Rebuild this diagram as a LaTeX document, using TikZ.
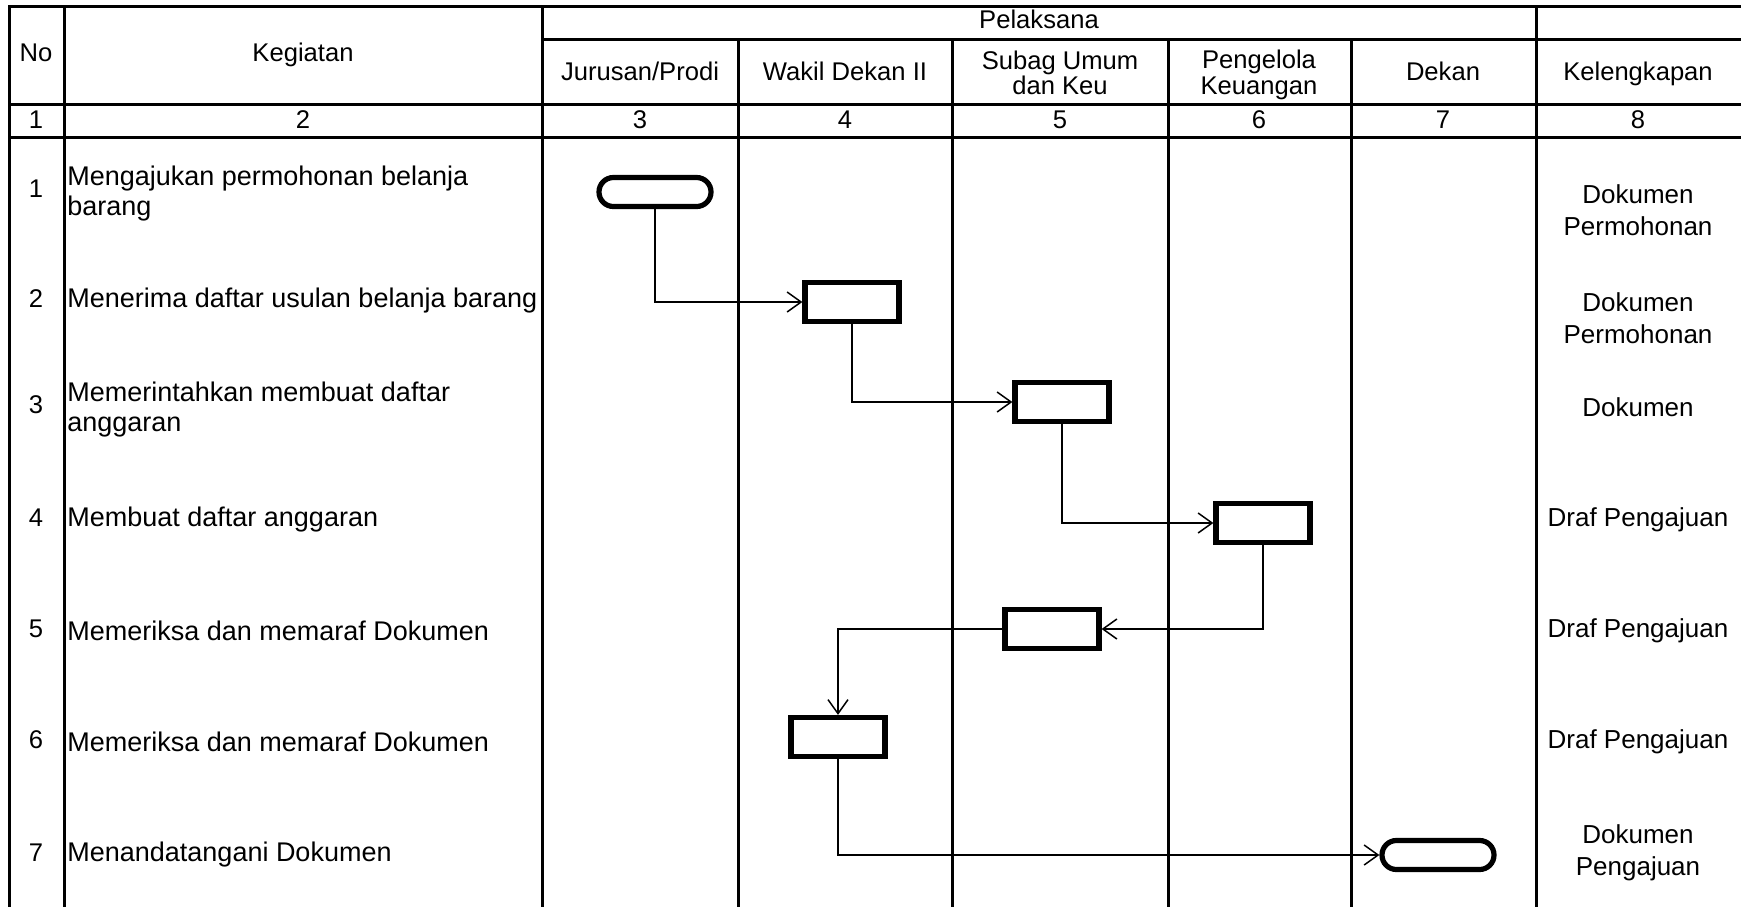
\documentclass[tikz,border=0pt]{standalone}
\usepackage{fontspec}
\setmainfont{Liberation Sans}
\usetikzlibrary{arrows.meta,positioning}

\begin{document}
\begin{tikzpicture}[x=0.5pt,y=-0.5pt,
    grid/.style={line width=1.5pt, line cap=rect},
    txt/.style={font=\fontsize{12.8}{15}\selectfont, inner sep=0pt, text height=9.4pt, text depth=2.6pt},
    head/.style={font=\fontsize{12.8}{12.8}\selectfont, inner sep=0pt, align=center},
    act/.style={font=\fontsize{13.5}{15}\selectfont, inner sep=0pt, anchor=west, align=left},
    doc/.style={font=\fontsize{13}{16}\selectfont, inner sep=0pt, align=center},
    proc/.style={draw, line width=2.6pt, minimum width=47pt, minimum height=19.5pt, inner sep=0pt},
    term/.style={draw, line width=2.6pt, rounded corners=7.2pt, minimum width=56pt, minimum height=14.5pt, inner sep=0pt},
    flow/.style={line width=0.75pt, -{Straight Barb[length=7pt,width=10pt]}}]
    \useasboundingbox (0,0) rectangle (1741,906);
    \clip (0,0) rectangle (1741,906);

    % Table
    \draw[grid] (9,6) -- (1741,6);
    \draw[grid] (542,39) -- (1741,39);
    \draw[grid] (9,104) -- (1741,104);
    \draw[grid] (9,137) -- (1741,137);
    \foreach \x in {9,64,542,1536} \draw[grid] (\x,6) -- (\x,906);
    \foreach \x in {738,952,1168,1351} \draw[grid] (\x,39) -- (\x,906);

    % Header
    \node[txt] (no) at (36,55) {No};
    \node[txt] (keg) at (303,55) {Kegiatan};
    \node[txt] (pel) at (1039,22) {Pelaksana};
    \node[txt] (jur) at (640,74) {Jurusan/Prodi};
    \node[txt] (wd) at (845,74) {Wakil Dekan II};
    \node[head] (sub) at (1060,73) {Subag Umum\\dan Keu};
    \node[head] (pk) at (1259,75) {Pengelola\\Keuangan};
    \node[txt] (dek) at (1443,74) {Dekan};
    \node[txt] (kel) at (1638,74) {Kelengkapan};

    % Column numbers
    \foreach \i/\x in {1/36,2/303,3/640,4/845,5/1060,6/1259,7/1443,8/1638}
        \node[txt] (n\i) at (\x,122) {\i};

    % Activities
    \foreach \i/\y in {1/191,2/301,3/407,4/520,5/631,6/742,7/855}
        \node[txt] (r\i) at (36,\y) {\i};
    \node[act] (a1) at (67,194) {Mengajukan permohonan belanja\\barang};
    \node[act] (a2) at (67,301) {Menerima daftar usulan belanja barang};
    \node[act] (a3) at (67,410) {Memerintahkan membuat daftar\\anggaran};
    \node[act] (a4) at (67,520) {Membuat daftar anggaran};
    \node[act] (a5) at (67,631) {Memeriksa dan memaraf Dokumen};
    \node[act] (a6) at (67,742) {Memeriksa dan memaraf Dokumen};
    \node[act] (a7) at (67,855) {Menandatangani Dokumen};

    % Kelengkapan
    \node[doc] (k1) at (1638,210) {Dokumen\\Permohonan};
    \node[doc] (k2) at (1638,318) {Dokumen\\Permohonan};
    \node[doc] (k3) at (1638,407) {Dokumen};
    \node[doc] (k4) at (1638,520) {Draf Pengajuan};
    \node[doc] (k5) at (1638,631) {Draf Pengajuan};
    \node[doc] (k6) at (1638,742) {Draf Pengajuan};
    \node[doc] (k7) at (1638,853) {Dokumen\\Pengajuan};

    % Flow symbols
    \node[term] (t1) at (655,192) {};
    \node[proc] (b2) at (852,302) {};
    \node[proc] (b3) at (1062,402) {};
    \node[proc] (b4) at (1263,523) {};
    \node[proc] (b5) at (1052,629) {};
    \node[proc] (b6) at (838,737) {};
    \node[term] (t7) at (1438,855) {};

    % Connectors
    \draw[flow] (t1.south) |- (b2.west);
    \draw[flow] (b2.south) |- (b3.west);
    \draw[flow] (b3.south) |- (b4.west);
    \draw[flow] (b4.south) |- (b5.east);
    \draw[flow] (b5.west) -| (b6.north);
    \draw[flow] (b6.south) |- (t7.west);
\end{tikzpicture}
\end{document}
